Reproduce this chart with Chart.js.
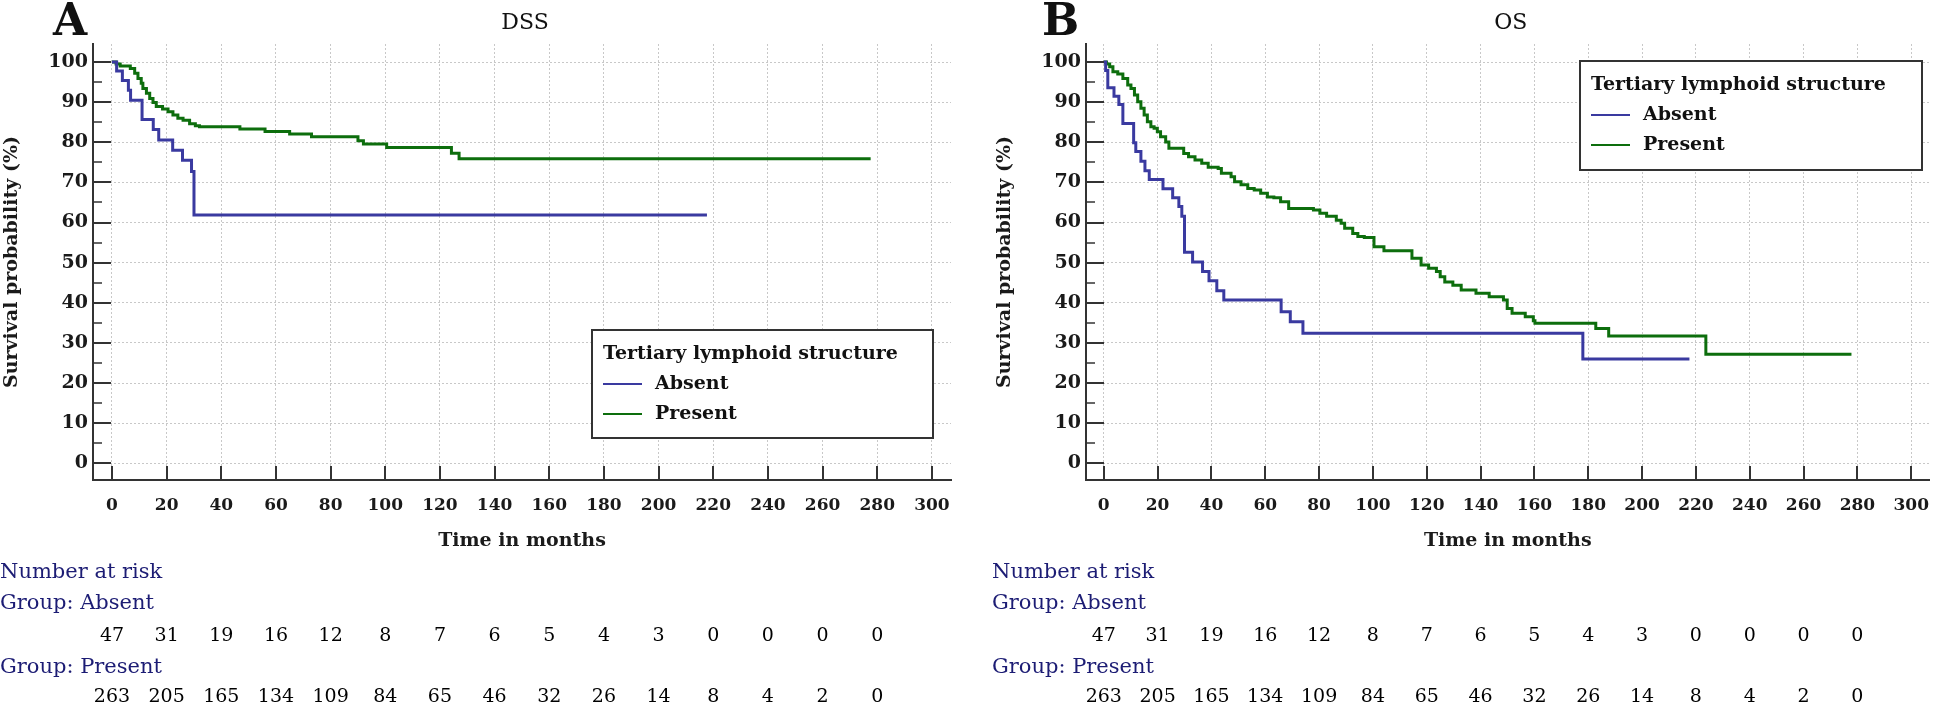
<!DOCTYPE html>
<html><head><meta charset="utf-8">
<script src="https://cdn.jsdelivr.net/npm/chart.js@4.4.1/dist/chart.umd.min.js"></script>
<style>
html,body{margin:0;padding:0;background:#fff;}
#wrap{position:relative;width:1944px;height:708px;background:#fff;}
canvas{position:absolute;top:0;}
#cA{left:0;} #cB{left:972px;}
</style></head><body>
<div id="wrap"><canvas id="cA" width="972" height="708"></canvas><canvas id="cB" width="972" height="708"></canvas></div>
<script>
// ---------- data ----------
const groupLabels = ['Absent', 'Present'];
const legendTitle = 'Tertiary lymphoid structure';
const riskTimes = [0,20,40,60,80,100,120,140,160,180,200,220,240,260,280];

const dssAbsentTime = [0,1.7,3.8,6.0,6.8,11.0,15.1,17.1,22.2,25.8,29.1,30.0,217.7];
const dssAbsentSurv = [100,97.8,95.4,93.0,90.5,85.7,83.2,80.6,78.0,75.5,72.7,61.9,61.9];
const dssPresentTime = [0,1.5,3,6.7,8.3,9.5,10.7,11.3,12.6,13.8,15.0,16.2,18.5,20.5,22.3,24.1,26.0,28.4,30.5,32.0,46.8,56,65,73,90,92,100.5,124.2,127,277.6];
const dssPresentSurv = [100,99.5,99.0,98.4,97.2,95.9,94.7,93.4,92.2,90.9,89.9,88.9,88.3,87.6,86.8,86.0,85.5,84.6,84.1,83.9,83.3,82.7,82.1,81.4,80.4,79.6,78.7,77.3,75.9,75.9];

const osAbsentTime = [0,0.7,1.5,3.8,5.6,7.1,11.1,11.9,13.8,15.3,16.9,22.0,25.6,27.9,29.0,30.0,33.0,36.7,39.1,42.0,44.6,65.9,69.3,74.0,178,217.6];
const osAbsentSurv = [100,97.9,93.6,91.5,89.4,84.7,79.9,77.7,75.3,72.9,70.7,68.4,66.2,64.0,61.6,52.6,50.2,47.8,45.5,43.0,40.7,37.8,35.3,32.4,26.0,26.0];
const osPresentTime = [0,1.0,2.2,3.4,5.2,7.1,8.9,10.1,11.4,12.6,13.8,15.0,16.2,17.5,18.7,19.9,21.1,23.0,24.2,29.7,31.5,33.9,36.4,38.8,42.5,43.7,47.3,48.6,51.0,53.5,55.9,58.3,60.8,63.2,65.7,68.7,77.9,80.3,82.8,86.4,88.2,89.5,92.5,94.4,96.8,100.4,104.1,114.5,117.9,120.7,123.6,125.0,126.7,129.7,132.8,138.3,143.2,148.5,149.9,151.7,156.6,159.6,160.2,182.8,187.6,223.7,277.8];
const osPresentSurv = [100,99.5,98.8,97.6,97.0,95.9,94.3,93.4,91.8,90.1,88.5,86.8,85.1,83.9,83.5,82.6,81.4,80.1,78.5,77.2,76.4,75.6,74.8,73.8,73.5,72.3,71.4,70.2,69.4,68.5,68.1,67.3,66.4,66.2,65.2,63.5,63.1,62.3,61.6,60.6,59.8,58.6,57.3,56.5,56.3,54.0,53.0,51.1,49.4,48.6,47.8,46.5,45.2,44.4,43.2,42.4,41.5,40.7,38.6,37.4,36.5,35.5,34.9,33.6,31.7,27.2,27.2];

const dssRiskAbsent = [47,31,19,16,12,8,7,6,5,4,3,0,0,0,0];
const dssRiskPresent = [263,205,165,134,109,84,65,46,32,26,14,8,4,2,0];
const osRiskAbsent = [47,31,19,16,12,8,7,6,5,4,3,0,0,0,0];
const osRiskPresent = [263,205,165,134,109,84,65,46,32,26,14,8,4,2,0];

// ---------- styling ----------
const F = 'DejaVu Serif';
const BLUE = '#3a3aa0';
const GREEN = '#0d6e0d';
const NAVY = '#1c1c74';
const AXIS = '#333333';
const GRID = '#c8c8c8';

function pts(t, s){ return t.map((v,i)=>({x:v, y:s[i]})); }

function makeChart(id, c){
  const decor = {
    id: 'decor',
    afterDraw(chart){
      const {ctx, chartArea:ca, scales:{x, y}} = chart;
      ctx.save();
      // inward major/minor ticks on y
      ctx.strokeStyle = AXIS;
      const yt = y.ticks.map(t=>t.value);
      yt.forEach((v,i)=>{
        const py = Math.round(y.getPixelForValue(v));
        ctx.lineWidth = 2;
        ctx.beginPath(); ctx.moveTo(ca.left, py); ctx.lineTo(ca.left+18, py); ctx.stroke();
        if (i < yt.length-1){
          const pm = Math.round(y.getPixelForValue((v+yt[i+1])/2));
          ctx.lineWidth = 1.5;
          ctx.beginPath(); ctx.moveTo(ca.left, pm); ctx.lineTo(ca.left+9, pm); ctx.stroke();
        }
      });
      // inward ticks on x
      ctx.lineWidth = 2;
      x.ticks.forEach(t=>{
        const px = Math.round(x.getPixelForValue(t.value));
        ctx.beginPath(); ctx.moveTo(px, ca.bottom); ctx.lineTo(px, ca.bottom-14); ctx.stroke();
      });
      // panel letter
      ctx.fillStyle = '#111';
      ctx.textAlign = 'left'; ctx.textBaseline = 'alphabetic';
      ctx.font = 'bold 44px "'+F+'"';
      ctx.fillText(c.letter, c.letterX, 35);
      // title
      ctx.font = '22px "'+F+'"';
      ctx.textAlign = 'center';
      ctx.fillText(c.title, (ca.left+ca.right)/2+3, 29);
      // legend
      const L = c.legend;
      ctx.fillStyle = '#fff';
      ctx.fillRect(L.x, L.y, L.w, L.h);
      ctx.strokeStyle = AXIS; ctx.lineWidth = 2;
      ctx.strokeRect(L.x, L.y, L.w, L.h);
      ctx.fillStyle = '#111';
      ctx.textAlign = 'left'; ctx.textBaseline = 'middle';
      ctx.font = 'bold 19px "'+F+'"';
      ctx.fillText(legendTitle, L.x+11, L.y+24);
      chart.data.datasets.forEach((ds,i)=>{
        const ly = L.y + 54 + i*30;
        ctx.strokeStyle = ds.borderColor; ctx.lineWidth = 2;
        ctx.beginPath(); ctx.moveTo(L.x+11, ly); ctx.lineTo(L.x+50, ly); ctx.stroke();
        ctx.fillStyle = '#111';
        ctx.font = 'bold 19px "'+F+'"';
        ctx.fillText(ds.label, L.x+63, ly);
      });
      // number at risk table
      ctx.textBaseline = 'middle';
      ctx.textAlign = 'left';
      ctx.fillStyle = NAVY;
      ctx.font = '21px "'+F+'"';
      ctx.fillText('Number at risk', c.tableX, 573);
      ctx.fillText('Group: ' + groupLabels[0], c.tableX, 604);
      ctx.fillText('Group: ' + groupLabels[1], c.tableX, 668);
      ctx.fillStyle = '#000';
      ctx.textAlign = 'center';
      ctx.font = '19px "'+F+'"';
      riskTimes.forEach((t,i)=>{
        const px = x.getPixelForValue(t);
        ctx.fillText(String(c.riskA[i]), px, 636);
        ctx.fillText(String(c.riskP[i]), px, 697);
      });
      ctx.restore();
    }
  };

  return new Chart(document.getElementById(id), {
    type: 'line',
    data: {
      datasets: [
        {label: groupLabels[0], data: pts(c.aT, c.aS), borderColor: BLUE, backgroundColor: BLUE},
        {label: groupLabels[1], data: pts(c.pT, c.pS), borderColor: GREEN, backgroundColor: GREEN}
      ]
    },
    options: {
      responsive: false,
      devicePixelRatio: 1,
      animation: false,
      events: [],
      elements: {
        line: {stepped: 'before', borderWidth: 3, tension: 0, fill: false},
        point: {radius: 0, hoverRadius: 0}
      },
      layout: {padding: {left: c.padL, right: c.padR, top: 44, bottom: 156}},
      plugins: {legend: {display: false}, tooltip: {enabled: false}, title: {display: false}},
      scales: {
        x: {
          type: 'linear', min: c.xMin, max: c.xMax,
          afterFit(s){ s.height = 72; },
          ticks: {stepSize: 20, includeBounds: false, padding: 15, color: '#1a1a1a', maxRotation: 0,
                  font: {family: F, size: 17, weight: 'bold'}},
          grid: {color: GRID, lineWidth: 1, drawTicks: false},
          border: {display: true, color: AXIS, width: 2, dash: [2,2]},
          title: {display: true, text: 'Time in months', color: '#1a1a1a', padding: {top: 0, bottom: 0},
                  font: {family: F, size: 19, weight: 'bold'}}
        },
        y: {
          type: 'linear', min: -4.16, max: 104.5,
          afterFit(s){ s.width = 93; },
          ticks: {stepSize: 10, includeBounds: false, padding: 5, color: '#1a1a1a',
                  font: {family: F, size: 19, weight: 'bold'}},
          grid: {color: GRID, lineWidth: 1, drawTicks: false},
          border: {display: true, color: AXIS, width: 2, dash: [2,2]},
          title: {display: true, text: 'Survival probability (%)', color: '#1a1a1a', padding: {top: 0.5, bottom: 0},
                  font: {family: F, size: 19, weight: 'bold'}}
        }
      }
    },
    plugins: [decor]
  });
}

makeChart('cA', {
  letter: 'A', letterX: 53, title: 'DSS',
  aT: dssAbsentTime, aS: dssAbsentSurv, pT: dssPresentTime, pS: dssPresentSurv,
  riskA: dssRiskAbsent, riskP: dssRiskPresent,
  padL: 0, padR: 21, xMin: -6.95, xMax: 307,
  legend: {x: 592, y: 330, w: 341, h: 108},
  tableX: 0
});
makeChart('cB', {
  letter: 'B', letterX: 70, title: 'OS',
  aT: osAbsentTime, aS: osAbsentSurv, pT: osPresentTime, pS: osPresentSurv,
  riskA: osRiskAbsent, riskP: osRiskPresent,
  padL: 21, padR: 2, xMin: -6.6, xMax: 306.8,
  legend: {x: 608, y: 61, w: 342, h: 109},
  tableX: 20
});
</script>
</body></html>
